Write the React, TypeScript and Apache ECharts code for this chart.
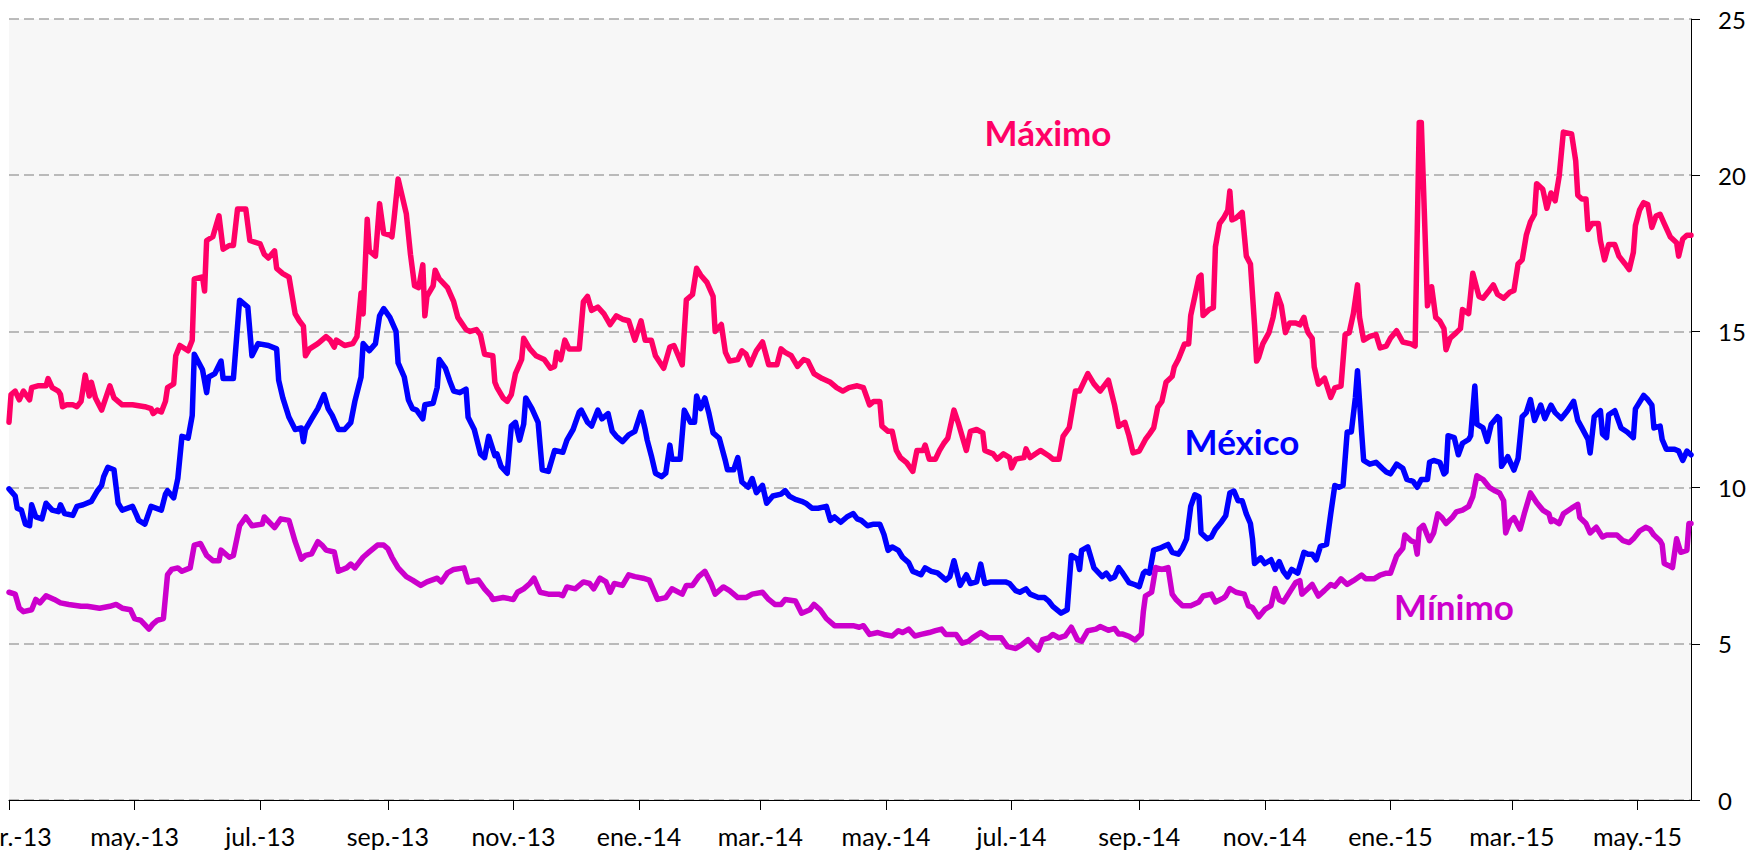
import React, { useEffect, useRef } from "react";
import * as echarts from "echarts";

// Daily calendar from 1 March 2013 (day offset 0) to 27 May 2015
const START_UTC = Date.UTC(2013, 2, 1);
const N_DAYS = 818;
const MONTHS = ["ene.", "feb.", "mar.", "abr.", "may.", "jun.", "jul.", "ago.", "sep.", "oct.", "nov.", "dic."];
const Y_TICKS = [0, 5, 10, 15, 20, 25];

// [day offset from 2013-03-01, value]
const maximo: [number, number][] = [[0,12.09],[1,12.98],[3,13.09],[5,12.81],[7,13.09],[10,12.81],[11,13.2],[14,13.26],[18,13.26],[19,13.49],[21,13.2],[24,13.09],[25,12.98],[26,12.59],[28,12.65],[31,12.65],[33,12.59],[35,12.76],[37,13.6],[39,12.93],[40,13.37],[42,12.87],[45,12.48],[49,13.26],[51,12.87],[55,12.65],[60,12.65],[66,12.59],[69,12.53],[70,12.37],[72,12.48],[74,12.42],[76,12.76],[77,13.2],[80,13.32],[81,14.22],[83,14.55],[87,14.38],[89,14.72],[90,16.68],[94,16.74],[95,16.29],[96,17.91],[99,18.03],[102,18.7],[104,17.63],[107,17.75],[109,17.75],[111,18.92],[115,18.92],[117,17.91],[122,17.8],[124,17.47],[126,17.35],[129,17.58],[130,17.02],[133,16.85],[136,16.74],[139,15.56],[141,15.34],[143,15.17],[144,14.22],[146,14.44],[150,14.61],[154,14.83],[156,14.72],[158,14.5],[159,14.72],[163,14.55],[167,14.61],[169,14.83],[171,16.23],[172,15.56],[174,18.59],[175,17.58],[178,17.41],[180,19.09],[182,18.14],[185,18.08],[186,18.03],[187,18.59],[189,19.88],[193,18.76],[195,17.47],[197,16.46],[199,16.4],[201,17.13],[202,15.5],[203,16.12],[206,16.46],[207,16.96],[209,16.68],[213,16.4],[216,15.95],[218,15.45],[222,15.06],[224,15.0],[227,15.06],[229,14.89],[231,14.27],[235,14.22],[236,13.37],[237,13.21],[240,12.87],[242,12.76],[244,12.98],[246,13.65],[249,14.1],[250,14.78],[253,14.44],[256,14.22],[260,14.1],[263,13.82],[265,13.88],[266,14.33],[268,14.1],[270,14.72],[272,14.44],[277,14.44],[279,15.95],[281,16.12],[283,15.67],[286,15.78],[289,15.56],[292,15.22],[295,15.5],[298,15.39],[301,15.34],[304,14.72],[307,15.34],[309,14.72],[312,14.72],[314,14.22],[318,13.82],[321,14.5],[323,14.55],[327,13.93],[329,16.01],[332,16.18],[334,17.02],[336,16.8],[339,16.57],[342,16.12],[343,15.0],[346,15.22],[348,14.33],[350,14.05],[354,14.1],[356,14.38],[358,14.27],[360,13.93],[363,14.38],[366,14.66],[369,13.93],[373,13.93],[375,14.44],[377,14.33],[380,14.22],[383,13.88],[386,14.1],[388,14.05],[391,13.65],[395,13.49],[399,13.37],[402,13.2],[405,13.09],[408,13.2],[412,13.26],[415,13.2],[418,12.65],[420,12.76],[423,12.76],[424,11.97],[427,11.8],[429,11.8],[431,11.19],[433,10.96],[436,10.8],[439,10.52],[441,11.19],[444,11.19],[445,11.36],[447,10.91],[450,10.91],[452,11.19],[454,11.41],[456,11.58],[459,12.48],[461,12.09],[465,11.19],[467,11.8],[470,11.86],[473,11.75],[474,11.19],[478,11.08],[480,10.91],[483,11.08],[486,10.96],[487,10.63],[489,10.91],[493,10.96],[494,11.24],[496,10.96],[501,11.19],[505,11.02],[507,10.91],[510,10.91],[512,11.64],[515,11.92],[518,13.09],[520,13.09],[522,13.37],[524,13.65],[527,13.32],[530,13.09],[534,13.44],[537,12.64],[539,11.96],[542,12.09],[544,11.66],[546,11.11],[549,11.17],[552,11.54],[554,11.72],[556,11.91],[558,12.58],[560,12.76],[562,13.37],[565,13.56],[566,13.86],[568,14.11],[571,14.6],[573,14.6],[574,15.51],[576,16.12],[578,16.74],[579,16.8],[580,15.51],[583,15.7],[585,15.76],[586,17.71],[588,18.45],[590,18.63],[592,18.88],[593,19.49],[594,18.57],[596,18.63],[599,18.81],[601,17.41],[603,17.16],[605,15.21],[606,14.05],[607,14.17],[609,14.6],[612,14.96],[614,15.45],[616,16.19],[618,15.82],[620,14.96],[622,15.27],[625,15.27],[627,15.21],[629,15.45],[630,15.15],[631,14.96],[633,14.78],[634,13.86],[636,13.31],[639,13.5],[642,12.89],[644,13.19],[647,13.25],[649,14.9],[651,14.96],[653,15.57],[655,16.49],[656,15.45],[658,14.72],[661,14.84],[664,14.9],[666,14.47],[669,14.53],[671,14.78],[674,15.02],[677,14.66],[681,14.6],[683,14.53],[685,21.69],[686,21.69],[689,15.82],[691,16.43],[693,15.45],[695,15.33],[697,15.09],[698,14.41],[700,14.78],[703,14.96],[705,15.09],[706,15.7],[709,15.57],[711,16.86],[714,16.12],[716,16.06],[719,16.31],[721,16.49],[723,16.19],[726,16.06],[729,16.25],[731,16.31],[733,17.16],[735,17.29],[737,18.08],[739,18.51],[741,18.75],[742,19.73],[745,19.55],[747,18.94],[749,19.43],[751,19.18],[753,19.98],[755,21.38],[759,21.32],[761,20.46],[762,19.36],[764,19.24],[766,19.24],[767,18.26],[769,18.45],[772,18.45],[773,17.9],[775,17.29],[777,17.78],[780,17.78],[782,17.41],[785,17.16],[787,16.98],[789,17.53],[790,18.39],[792,18.88],[794,19.12],[796,19.06],[798,18.33],[800,18.69],[802,18.75],[804,18.45],[807,18.02],[810,17.84],[811,17.41],[813,17.96],[815,18.08],[817,18.08]];

const mexico: [number, number][] = [[0,9.96],[3,9.73],[4,9.34],[6,9.28],[8,8.83],[10,8.78],[11,9.45],[13,9.06],[16,9.0],[18,9.5],[21,9.28],[24,9.23],[25,9.45],[27,9.17],[31,9.11],[33,9.4],[36,9.45],[40,9.56],[43,9.9],[45,10.07],[46,10.35],[48,10.65],[51,10.57],[53,9.5],[55,9.28],[60,9.4],[62,9.11],[63,8.95],[66,8.83],[69,9.4],[74,9.28],[76,9.79],[77,9.9],[80,9.67],[82,10.29],[84,11.64],[87,11.58],[89,12.31],[90,14.27],[94,13.77],[96,13.04],[97,13.54],[100,13.65],[103,14.05],[104,13.49],[109,13.49],[112,16.0],[116,15.78],[118,14.22],[121,14.61],[126,14.55],[130,14.44],[131,13.43],[133,12.87],[136,12.25],[139,11.86],[142,11.91],[143,11.47],[144,11.86],[147,12.2],[150,12.53],[153,12.98],[155,12.53],[157,12.31],[160,11.86],[163,11.86],[166,12.08],[168,12.76],[171,13.54],[172,14.61],[175,14.38],[178,14.61],[180,15.5],[182,15.73],[185,15.45],[188,15.0],[189,13.99],[192,13.54],[194,12.81],[196,12.53],[198,12.48],[201,12.2],[202,12.65],[206,12.7],[208,13.21],[209,14.1],[212,13.82],[214,13.43],[216,13.09],[219,13.04],[222,13.15],[223,12.25],[226,11.86],[229,11.08],[231,10.96],[233,11.64],[236,11.02],[237,11.08],[239,10.68],[242,10.46],[244,11.97],[246,12.09],[248,11.52],[250,12.03],[251,12.87],[254,12.53],[257,12.09],[259,10.57],[262,10.52],[265,11.19],[269,11.13],[271,11.52],[274,11.86],[277,12.42],[278,12.48],[281,12.09],[283,11.97],[286,12.48],[288,12.2],[291,12.37],[293,11.8],[295,11.64],[298,11.47],[301,11.69],[304,11.8],[307,12.42],[309,11.86],[310,11.52],[312,11.02],[314,10.46],[317,10.35],[319,10.46],[321,11.36],[322,10.91],[326,10.91],[328,12.48],[331,12.09],[333,12.09],[334,12.93],[336,12.53],[338,12.87],[340,12.37],[342,11.75],[345,11.58],[348,10.85],[349,10.57],[352,10.57],[354,10.96],[356,10.18],[359,10.01],[361,10.29],[363,9.84],[366,10.07],[368,9.5],[371,9.73],[375,9.79],[377,9.9],[379,9.73],[382,9.62],[385,9.56],[387,9.5],[390,9.34],[393,9.34],[397,9.4],[399,8.95],[401,9.06],[404,8.89],[407,9.06],[410,9.17],[412,9.0],[414,8.95],[417,8.78],[420,8.83],[423,8.83],[425,8.5],[427,7.99],[429,8.1],[432,7.99],[434,7.77],[437,7.6],[439,7.32],[441,7.27],[443,7.21],[445,7.43],[448,7.32],[451,7.27],[454,7.1],[455,7.04],[457,7.15],[459,7.66],[462,6.87],[465,7.21],[467,6.93],[470,6.98],[472,7.55],[474,6.93],[477,6.98],[484,6.98],[486,6.93],[489,6.7],[491,6.65],[494,6.76],[496,6.59],[500,6.48],[503,6.48],[505,6.37],[507,6.2],[511,5.98],[514,6.09],[516,7.83],[519,7.71],[520,7.38],[521,7.99],[524,8.1],[527,7.43],[531,7.15],[533,7.26],[535,7.08],[537,7.14],[539,7.44],[541,7.26],[544,6.96],[547,6.89],[549,6.83],[551,7.26],[552,7.32],[554,7.26],[556,8.0],[559,8.06],[561,8.12],[563,8.18],[565,7.93],[568,7.87],[570,8.06],[572,8.36],[574,9.4],[576,9.77],[578,9.71],[579,8.55],[582,8.36],[584,8.42],[586,8.67],[589,8.91],[591,9.1],[593,9.83],[595,9.89],[597,9.58],[599,9.58],[601,9.16],[603,8.85],[604,8.36],[605,7.57],[608,7.75],[610,7.57],[613,7.69],[615,7.38],[617,7.63],[619,7.32],[621,7.14],[623,7.38],[626,7.26],[629,7.93],[631,7.87],[633,7.87],[635,7.69],[637,8.12],[640,8.18],[642,9.16],[644,10.07],[646,10.01],[648,10.07],[650,11.78],[652,11.78],[654,12.89],[655,13.74],[657,11.78],[658,10.87],[661,10.75],[664,10.81],[667,10.62],[669,10.5],[671,10.44],[674,10.75],[677,10.62],[679,10.26],[682,10.2],[684,10.01],[686,10.26],[689,10.26],[690,10.81],[692,10.87],[695,10.81],[697,10.44],[698,10.5],[699,11.66],[702,11.6],[704,11.05],[706,11.42],[709,11.54],[710,11.66],[712,13.25],[713,12.03],[716,11.91],[718,11.48],[720,12.03],[723,12.27],[724,12.21],[725,10.68],[728,10.99],[731,10.56],[733,10.93],[735,12.27],[737,12.4],[739,12.82],[741,12.15],[744,12.64],[746,12.21],[749,12.64],[751,12.4],[754,12.21],[757,12.46],[760,12.76],[762,12.15],[764,11.91],[767,11.54],[768,11.11],[770,12.27],[773,12.46],[774,11.72],[776,11.6],[777,12.33],[780,12.46],[783,11.91],[786,11.78],[789,11.6],[790,12.52],[794,12.95],[796,12.82],[798,12.64],[799,11.91],[802,11.97],[803,11.54],[805,11.23],[809,11.23],[811,11.17],[813,10.87],[815,11.17],[817,11.05]];

const minimo: [number, number][] = [[0,6.65],[3,6.59],[5,6.14],[7,6.03],[11,6.09],[13,6.42],[15,6.31],[18,6.54],[22,6.42],[25,6.31],[29,6.26],[35,6.2],[38,6.2],[44,6.14],[49,6.2],[52,6.26],[55,6.14],[59,6.09],[61,5.81],[64,5.75],[68,5.47],[70,5.64],[72,5.75],[75,5.81],[77,7.21],[79,7.38],[82,7.43],[84,7.32],[88,7.43],[90,8.16],[93,8.21],[96,7.83],[99,7.66],[102,7.66],[103,8.0],[107,7.77],[109,7.83],[112,8.78],[115,9.06],[118,8.78],[123,8.83],[124,9.06],[129,8.72],[132,9.0],[136,8.95],[139,8.27],[142,7.71],[144,7.83],[147,7.88],[150,8.27],[152,8.16],[154,8.0],[158,7.94],[160,7.32],[164,7.43],[166,7.55],[168,7.43],[172,7.77],[175,7.94],[179,8.16],[182,8.16],[184,8.05],[186,7.77],[189,7.43],[193,7.15],[196,7.04],[200,6.87],[203,6.98],[208,7.1],[210,6.98],[213,7.27],[216,7.38],[221,7.43],[223,6.98],[228,7.04],[231,6.76],[234,6.54],[235,6.42],[240,6.48],[245,6.42],[247,6.65],[250,6.76],[253,6.93],[255,7.1],[258,6.65],[262,6.59],[267,6.59],[269,6.54],[271,6.82],[275,6.76],[279,6.98],[282,6.93],[284,6.76],[287,7.1],[290,6.98],[292,6.65],[294,6.93],[298,6.87],[301,7.21],[304,7.15],[308,7.1],[311,7.04],[315,6.42],[319,6.48],[322,6.76],[327,6.59],[329,6.87],[332,6.87],[335,7.15],[338,7.32],[341,6.93],[343,6.59],[347,6.82],[350,6.7],[354,6.48],[358,6.48],[361,6.59],[366,6.65],[369,6.42],[372,6.26],[375,6.26],[377,6.42],[382,6.37],[385,5.98],[389,6.09],[391,6.26],[394,6.09],[397,5.81],[401,5.58],[404,5.58],[410,5.58],[413,5.53],[415,5.58],[418,5.3],[422,5.36],[425,5.3],[429,5.25],[432,5.42],[434,5.36],[437,5.47],[440,5.25],[443,5.3],[447,5.36],[450,5.42],[453,5.47],[455,5.3],[460,5.3],[463,5.02],[466,5.08],[468,5.19],[472,5.36],[476,5.19],[480,5.19],[482,5.19],[485,4.91],[489,4.85],[492,4.97],[495,5.13],[498,4.91],[500,4.8],[502,5.13],[505,5.19],[507,5.3],[510,5.19],[513,5.25],[516,5.53],[519,5.13],[521,5.08],[524,5.42],[528,5.47],[530,5.55],[534,5.43],[537,5.49],[539,5.31],[541,5.31],[544,5.24],[547,5.12],[550,5.31],[551,6.04],[552,6.53],[555,6.65],[557,7.44],[560,7.38],[563,7.44],[565,6.59],[567,6.41],[570,6.22],[574,6.22],[578,6.34],[580,6.53],[584,6.59],[586,6.34],[590,6.47],[591,6.53],[593,6.77],[596,6.65],[600,6.59],[602,6.22],[604,6.16],[607,5.86],[610,6.1],[613,6.22],[615,6.77],[617,6.41],[619,6.34],[622,6.65],[625,6.96],[627,7.02],[628,6.59],[631,6.77],[633,6.9],[636,6.53],[639,6.71],[642,6.9],[644,6.84],[647,7.08],[650,6.9],[653,7.02],[657,7.2],[659,7.08],[663,7.08],[666,7.2],[669,7.26],[671,7.26],[674,7.81],[677,8.06],[678,8.48],[681,8.3],[683,8.24],[684,7.87],[685,8.67],[687,8.79],[690,8.3],[692,8.55],[694,9.16],[696,9.04],[698,8.85],[701,9.04],[703,9.22],[706,9.28],[709,9.4],[711,9.71],[713,10.38],[716,10.26],[719,10.01],[722,9.89],[724,9.83],[726,9.58],[727,8.55],[729,8.91],[731,9.04],[734,8.67],[736,9.16],[739,9.83],[742,9.52],[745,9.28],[748,9.16],[749,8.91],[750,8.97],[753,8.85],[755,9.16],[759,9.34],[762,9.46],[763,9.04],[766,8.85],[768,8.55],[771,8.73],[774,8.42],[776,8.48],[781,8.48],[784,8.3],[787,8.24],[789,8.36],[792,8.61],[795,8.73],[797,8.67],[799,8.48],[802,8.3],[803,8.18],[804,7.57],[806,7.51],[808,7.44],[810,8.36],[812,7.93],[815,7.99],[816,8.85],[817,8.85]];

const SERIES = [
  { name: "Máximo", data: maximo, color: "#FF0066" },
  { name: "México", data: mexico, color: "#0000FF" },
  { name: "Mínimo", data: minimo, color: "#CC00CC" },
];

const LABELS = [
  { text: "Máximo", color: "#FF0066", x: 1048, y: 132 },
  { text: "México", color: "#0000FF", x: 1242, y: 441 },
  { text: "Mínimo", color: "#CC00CC", x: 1454, y: 606 },
];

const pad = (n: number) => (n < 10 ? "0" + n : "" + n);
const dayDate = (i: number) => new Date(START_UTC + i * 86400000);
const categories = Array.from({ length: N_DAYS }, (_, i) => {
  const d = dayDate(i);
  return `${d.getUTCFullYear()}-${pad(d.getUTCMonth() + 1)}-${pad(d.getUTCDate())}`;
});
const isMonthTick = (i: number) => {
  const d = dayDate(i);
  return d.getUTCDate() === 1 && d.getUTCMonth() % 2 === 0;
};

const FONT = "Lato, 'Open Sans', sans-serif";

export default function App() {
  const ref = useRef<HTMLDivElement>(null);
  useEffect(() => {
    if (!ref.current) return;
    const chart = echarts.init(ref.current, undefined, { renderer: "svg" });
    chart.setOption({
      animation: false,
      grid: {
        left: 9,
        top: 19,
        right: 61,
        bottom: 53,
        show: true,
        backgroundColor: "#F7F7F7",
        borderWidth: 0,
        containLabel: false,
        outerBoundsMode: "none",
      },
      xAxis: {
        type: "category",
        data: categories,
        boundaryGap: false,
        axisLine: { show: true, lineStyle: { color: "#000", width: 1 } },
        axisTick: {
          show: true,
          interval: (i: number) => isMonthTick(i),
          length: 10,
          lineStyle: { color: "#000", width: 1 },
        },
        axisLabel: {
          show: true,
          interval: (i: number) => isMonthTick(i),
          formatter: (v: string) => {
            const [y, m] = v.split("-");
            return MONTHS[parseInt(m, 10) - 1] + "-" + y.slice(2);
          },
          margin: 23,
          color: "#000",
          fontSize: 25,
          fontFamily: FONT,
          hideOverlap: false,
        },
        splitLine: { show: false },
      },
      yAxis: {
        type: "value",
        position: "right",
        min: Y_TICKS[0],
        max: Y_TICKS[Y_TICKS.length - 1],
        interval: 5,
        axisLine: { show: true, lineStyle: { color: "#000", width: 1 } },
        axisTick: { show: true, length: 9, lineStyle: { color: "#000", width: 1 } },
        axisLabel: {
          margin: 27,
          color: "#000",
          fontSize: 24,
          fontFamily: FONT,
          align: "left",
        },
        splitLine: {
          show: true,
          lineStyle: { color: "#A6A6A6", width: 1.5, type: [10, 5] },
        },
      },
      series: SERIES.map((s) => ({
        name: s.name,
        type: "line",
        data: s.data,
        showSymbol: false,
        symbol: "none",
        lineStyle: { color: s.color, width: 5.5, cap: "round", join: "round" },
        itemStyle: { color: s.color },
        z: 3,
      })),
      graphic: LABELS.map((l) => ({
        type: "text",
        x: l.x,
        y: l.y,
        z: 10,
        style: {
          text: l.text,
          fill: l.color,
          fontSize: 35,
          fontWeight: "bold",
          fontFamily: FONT,
          align: "center",
          verticalAlign: "middle",
        },
      })),
    });
    return () => chart.dispose();
  }, []);
  return (
    <div
      ref={ref}
      style={{ position: "absolute", left: 0, top: 0, width: 1752, height: 853 }}
    />
  );
}
